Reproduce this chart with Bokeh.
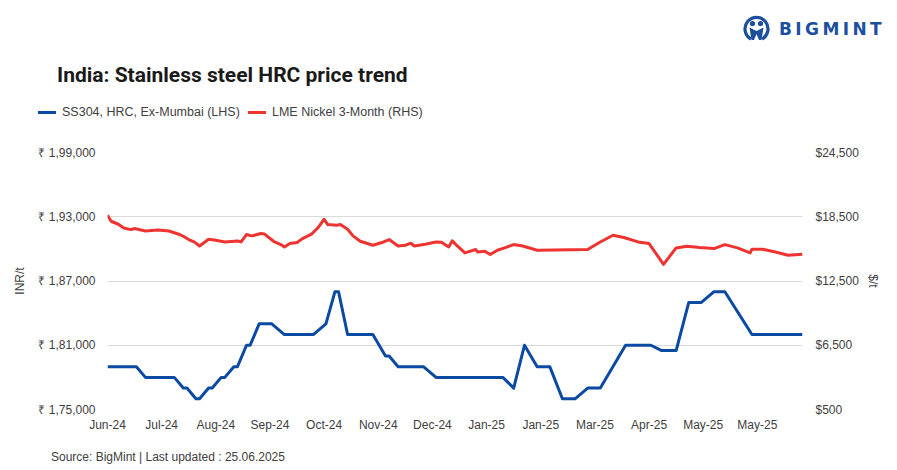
import pandas as pd
from bokeh.plotting import figure
from bokeh.layouts import column
from bokeh.models import Range1d, LinearAxis, FixedTicker, ColumnDataSource, Div
from bokeh.embed import file_html
from bokeh.resources import INLINE

# ---------------- data ----------------
ss304_dates = ["2024-06-05", "2024-06-21", "2024-06-26", "2024-07-12", "2024-07-17",
               "2024-07-19", "2024-07-24", "2024-07-26", "2024-07-31", "2024-08-02",
               "2024-08-07", "2024-08-09", "2024-08-14", "2024-08-16", "2024-08-21",
               "2024-08-23", "2024-08-28", "2024-09-04", "2024-09-11", "2024-09-27",
               "2024-10-04", "2024-10-09", "2024-10-11", "2024-10-16", "2024-10-30",
               "2024-11-06", "2024-11-08", "2024-11-13", "2024-11-27", "2024-12-04",
               "2025-01-10", "2025-01-16", "2025-01-22", "2025-01-29", "2025-02-05",
               "2025-02-12", "2025-02-19", "2025-02-26", "2025-03-05", "2025-03-19",
               "2025-04-02", "2025-04-08", "2025-04-16", "2025-04-23", "2025-04-30",
               "2025-05-07", "2025-05-13", "2025-05-28", "2025-06-25"]
ss304_values = [179000, 179000, 178000, 178000, 177000,
                177000, 176000, 176000, 177000, 177000,
                178000, 178000, 179000, 179000, 181000,
                181000, 183000, 183000, 182000, 182000,
                183000, 186000, 186000, 182000, 182000,
                180000, 180000, 179000, 179000, 178000,
                178000, 177000, 181000, 179000, 179000,
                176000, 176000, 177000, 177000, 181000,
                181000, 180500, 180500, 185000, 185000,
                186000, 186000, 182000, 182000]

nickel_dates = ["2024-06-05", "2024-06-07", "2024-06-11", "2024-06-14", "2024-06-18",
                "2024-06-20", "2024-06-26", "2024-07-03", "2024-07-09", "2024-07-15",
                "2024-07-17", "2024-07-20", "2024-07-23", "2024-07-26", "2024-07-31",
                "2024-08-04", "2024-08-09", "2024-08-16", "2024-08-18", "2024-08-21",
                "2024-08-24", "2024-08-29", "2024-08-31", "2024-09-05", "2024-09-09",
                "2024-09-11", "2024-09-14", "2024-09-18", "2024-09-21", "2024-09-26",
                "2024-09-30", "2024-10-03", "2024-10-05", "2024-10-10", "2024-10-12",
                "2024-10-16", "2024-10-19", "2024-10-23", "2024-10-30", "2024-11-04",
                "2024-11-08", "2024-11-13", "2024-11-17", "2024-11-20", "2024-11-22",
                "2024-11-28", "2024-12-04", "2024-12-07", "2024-12-11", "2024-12-13",
                "2024-12-15", "2024-12-20", "2024-12-26", "2024-12-27", "2024-12-31",
                "2025-01-03", "2025-01-07", "2025-01-11", "2025-01-16", "2025-01-21",
                "2025-01-29", "2025-02-26", "2025-03-04", "2025-03-12", "2025-03-18",
                "2025-03-26", "2025-04-01", "2025-04-09", "2025-04-16", "2025-04-22",
                "2025-04-29", "2025-05-07", "2025-05-13", "2025-05-20", "2025-05-27",
                "2025-05-28", "2025-06-03", "2025-06-10", "2025-06-17", "2025-06-25"]
nickel_values = [18640, 18080, 17800, 17450, 17300,
                 17400, 17170, 17270, 17170, 16840,
                 16680, 16370, 16150, 15770, 16400,
                 16300, 16150, 16240, 16150, 16840,
                 16710, 16930, 16880, 16210, 15900,
                 15680, 16000, 16090, 16460, 16870,
                 17550, 18270, 17770, 17710, 17770,
                 17330, 16710, 16210, 15840, 16090,
                 16370, 15770, 15840, 16030, 15770,
                 15930, 16150, 16120, 15680, 16250,
                 15900, 15120, 15440, 15210, 15280,
                 14970, 15370, 15590, 15900, 15770,
                 15370, 15440, 16050, 16770, 16560,
                 16150, 16000, 14060, 15590, 15750,
                 15620, 15530, 15900, 15590, 15120,
                 15470, 15470, 15210, 14900, 14990]

inr_ticks = [175000, 181000, 187000, 193000, 199000]
inr_tick_labels = ["₹ 1,75,000", "₹ 1,81,000", "₹ 1,87,000", "₹ 1,93,000", "₹ 1,99,000"]
usd_ticks = [500, 6500, 12500, 18500, 24500]
usd_tick_labels = ["$500", "$6,500", "$12,500", "$18,500", "$24,500"]
x_tick_dates = ["2024-06-05", "2024-07-05", "2024-08-04", "2024-09-03", "2024-10-03",
                "2024-11-02", "2024-12-02", "2025-01-01", "2025-01-31", "2025-03-02",
                "2025-04-01", "2025-05-01", "2025-05-31"]
x_tick_labels = ["Jun-24", "Jul-24", "Aug-24", "Sep-24", "Oct-24", "Nov-24", "Dec-24",
                 "Jan-25", "Jan-25", "Mar-25", "Apr-25", "May-25", "May-25"]
x_start, x_end = "2024-06-05", "2025-06-25"

title_text = "India: Stainless steel HRC price trend"
source_text = "Source: BigMint | Last updated : 25.06.2025"
ss304_name = "SS304, HRC, Ex-Mumbai (LHS)"
nickel_name = "LME Nickel 3-Month (RHS)"
logo_text = "BIGMINT"

# ---------------- styles ----------------
BLUE = "#0b4aa2"
RED = "#ee3431"
LOGO = "#1d4f9f"
TXT = "#404040"
FONT = "Liberation Sans"
W = 897

# ---------------- main chart ----------------
ss_src = ColumnDataSource(dict(x=pd.to_datetime(ss304_dates), y=ss304_values))
ni_src = ColumnDataSource(dict(x=pd.to_datetime(nickel_dates), y=nickel_values))

p = figure(width=W, height=310, output_backend="svg", toolbar_location=None,
           x_axis_type="datetime",
           x_range=Range1d(pd.Timestamp(x_start), pd.Timestamp(x_end)),
           y_range=Range1d(175000, 199000),
           min_border_left=107, min_border_right=95, min_border_top=22,
           min_border_bottom=31)
p.extra_y_ranges = {"usd": Range1d(500, 24500)}
p.outline_line_color = None
p.xgrid.grid_line_color = None
p.ygrid.grid_line_color = "#d9d9d9"
p.ygrid.grid_line_width = 1

p.line("x", "y", source=ss_src, line_color=BLUE, line_width=3, line_join="round")
p.line("x", "y", source=ni_src, line_color=RED, line_width=3,
       line_join="round", y_range_name="usd")

x_ms = [int(pd.Timestamp(d).value // 10**6) for d in x_tick_dates]
xa = p.xaxis[0]
xa.ticker = FixedTicker(ticks=x_ms)
xa.major_label_overrides = dict(zip(x_ms, x_tick_labels))

ya = p.yaxis[0]
ya.ticker = FixedTicker(ticks=inr_ticks)
ya.major_label_overrides = dict(zip(inr_ticks, inr_tick_labels))
ya.axis_label = "INR/t"

ra = LinearAxis(y_range_name="usd", ticker=FixedTicker(ticks=usd_ticks),
                major_label_overrides=dict(zip(usd_ticks, usd_tick_labels)),
                axis_label="$/t")
p.add_layout(ra, "right")

for ax in [xa, ya, ra]:
    ax.axis_line_color = None
    ax.major_tick_line_color = None
    ax.minor_tick_line_color = None
    ax.major_tick_out = 0
    ax.major_tick_in = 0
    ax.major_label_text_font = FONT
    ax.major_label_text_font_size = "12px"
    ax.major_label_text_color = TXT
    ax.axis_label_text_font = FONT
    ax.axis_label_text_font_size = "12px"
    ax.axis_label_text_font_style = "normal"
    ax.axis_label_text_color = TXT
xa.major_label_standoff = 8
ya.major_label_standoff = 12
ya.axis_label_standoff = 8
ra.major_label_standoff = 13
ra.axis_label_standoff = 4

# ---------------- header / footer (HTML) ----------------
def span(left, top, size, text, family=FONT, weight="normal", color=TXT, extra=""):
    return (f'<span style="position:absolute;left:{left}px;top:{top}px;'
            f"font-family:'{family}';font-size:{size}px;font-weight:{weight};"
            f'line-height:1;white-space:nowrap;color:{color};{extra}">{text}</span>')

def bar(left, top, color):
    return (f'<span style="position:absolute;left:{left}px;top:{top}px;width:18px;'
            f'height:3px;background:{color};"></span>')

icon = (f'<svg style="position:absolute;left:743px;top:15px" width="27" height="27" '
        f'viewBox="0 0 27 27">'
        f'<path d="M8 24 A11.5 11.5 0 1 1 19 24" fill="none" stroke="{LOGO}" stroke-width="3.2"/>'
        f'<circle cx="9.5" cy="8.5" r="2.6" fill="{LOGO}"/>'
        f'<circle cx="17.5" cy="8.5" r="2.6" fill="{LOGO}"/>'
        f'<path d="M6.5 12.5 L13.5 16 L20.5 12.5 L18.5 25 L16 25 L13.5 19 L11 25 L8.5 25 Z" '
        f'fill="{LOGO}"/></svg>')

head_html = (
    f'<div style="position:relative;width:{W}px;height:130px;background:white;">'
    + icon
    + span(779, 21.1, 17, logo_text, family="DejaVu Sans", weight="bold", color=LOGO,
           extra="letter-spacing:3.4px;")
    + span(57, 64.8, 21, title_text, family="Roboto", weight="bold", color="#1a1a1a")
    + bar(38, 110.5, BLUE)
    + span(62, 105.9, 12.5, ss304_name)
    + bar(248, 110.5, RED)
    + span(272, 105.9, 12.5, nickel_name)
    + '</div>')
head = Div(text=head_html, width=W, height=130, margin=0)

foot_html = (f'<div style="position:relative;width:{W}px;height:30px;background:white;">'
             + span(51, 10.8, 12, source_text) + '</div>')
foot = Div(text=foot_html, width=W, height=30, margin=0)

layout = column(head, p, foot, spacing=0)
open("out.html", "w").write(file_html(layout, INLINE))
